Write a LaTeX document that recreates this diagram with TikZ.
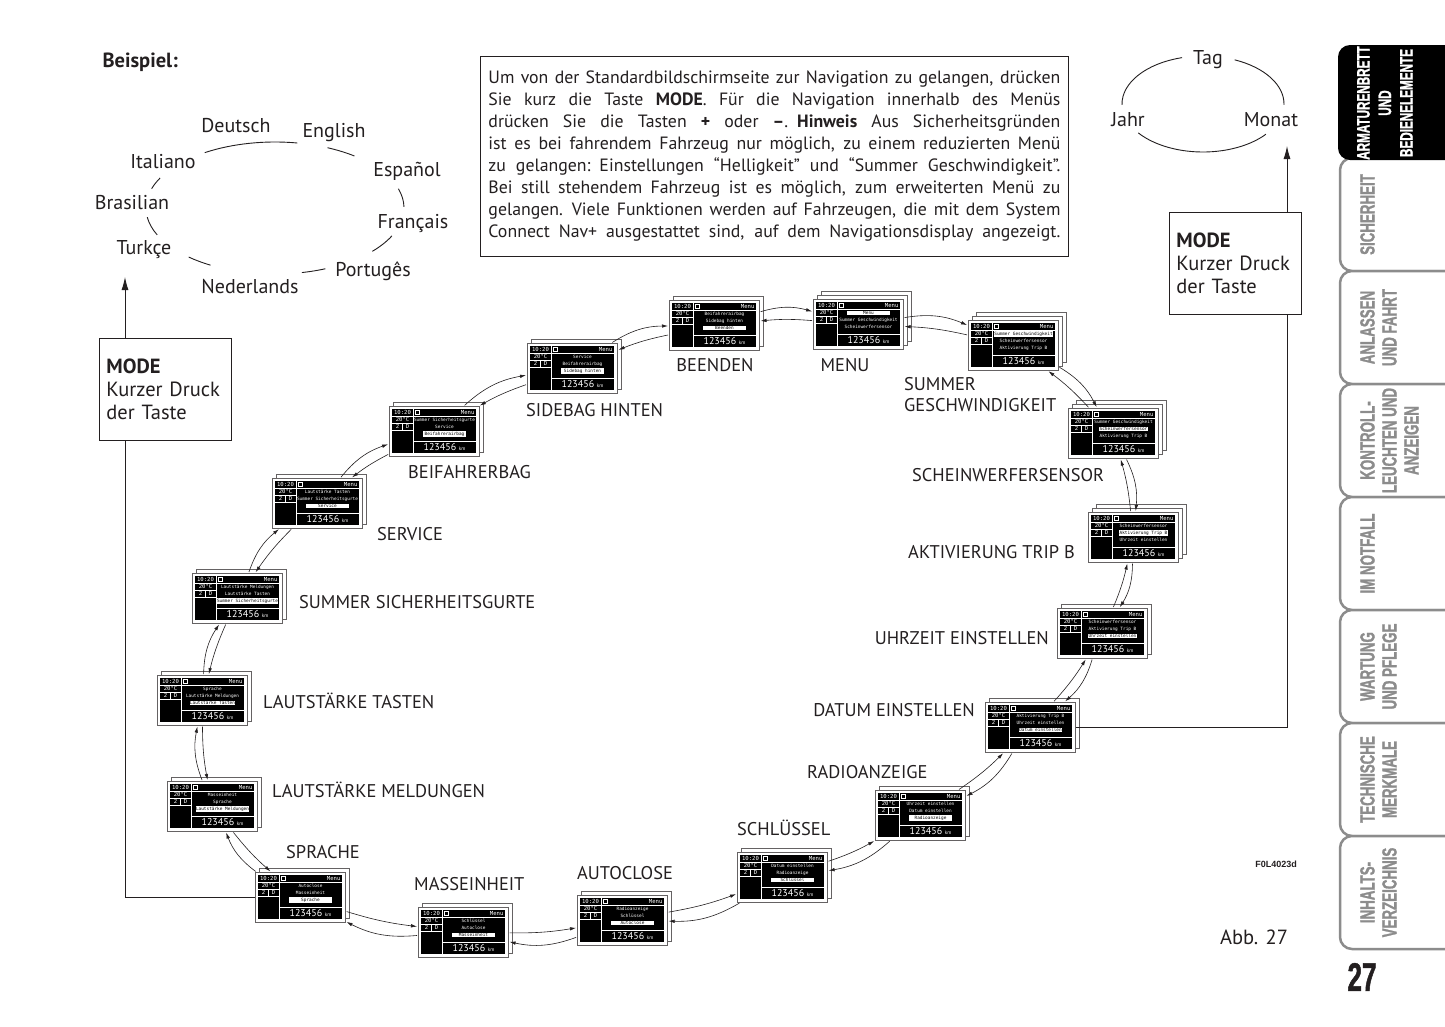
\documentclass[tikz,border=0pt]{standalone}
\usepackage{fontspec}
\setmainfont{PT Sans}
\newfontfamily\tabfont[FakeStretch=0.65,FakeBold=1.2]{Liberation Sans Bold}
\newfontfamily\lcdfont{DejaVu Sans Mono}
\newfontfamily\codefont{Liberation Sans}
\usetikzlibrary{arrows.meta,positioning,calc}
\definecolor{ink}{HTML}{231F20}
\definecolor{tabgray}{HTML}{8C8C8C}
\tikzset{
  lbl/.style={font=\fontsize{18.4}{21}\selectfont,text=ink,inner sep=1pt},
  lang/.style={font=\fontsize{20}{22}\selectfont,text=ink,inner sep=2pt},
  ring/.style={draw=ink,line width=0.9pt},
  modebox/.style={draw=ink,fill=white,line width=0.9pt,align=left,anchor=north west,text width=118pt,minimum height=102pt,inner sep=7pt,font=\fontsize{20.5}{23}\selectfont,text=ink},
  lcdframe/.style={draw=ink!70,fill=white,line width=0.6pt,minimum width=90pt,minimum height=50pt,inner sep=0pt,anchor=north west},
  lcdback/.style={draw=ink!70,fill=white,line width=0.6pt},
  lcdline/.style={draw=white,line width=0.5pt},
  lcdtxt/.style={text=white,font=\lcdfont\fontsize{4.4}{5}\selectfont,inner sep=0.4pt},
  lcdhead/.style={lcdtxt,font=\lcdfont\fontsize{5.6}{6}\selectfont},
  lcdsel/.style={lcdtxt,fill=white,text=black,minimum width=43pt},
  fwd/.style={-{Latex[length=6pt,width=3.5pt]},draw=ink,line width=0.6pt,shorten >=1pt,shorten <=1pt},
  bwd/.style={fwd},
  ar/.style={-{Latex[length=13pt,width=7pt]},draw=ink,line width=0.9pt},
  tabon/.style={fill=black,rounded corners=12pt},
  taboff/.style={draw=tabgray,line width=2.5pt,fill=white,rounded corners=12pt},
  tabtxt/.style={rotate=90,anchor=north,align=center,font=\tabfont\fontsize{20.5}{22}\selectfont,text=tabgray,inner sep=0pt},
}
% one justified line of the info box
\newcommand{\jline}[1]{\leavevmode\hbox to 572pt{\spaceskip=0.25em plus 1fil\relax#1}}
% display: name, top left, layers, line 1-3, selected line
\newcommand{\lcd}[7]{%
  \foreach \k in {#3,...,2}{\draw[lcdback,shift={({4*\k-4},{4-4*\k})}] #2 rectangle ++(90,50);}
  \node[lcdframe] (#1) at #2 {};
  \begin{scope}[shift={(#1.north west)}]
    \fill[black] (3,3) rectangle (87,47);
    \draw[lcdline] (3,10) -- (87,10) (24,3) -- (24,47) (3,17) -- (24,17) (3,24) -- (24,24)
      (13,17) -- (13,24) (24,35) -- (87,35) (26,4.5) rectangle (30,8.5);
    \node[lcdhead] at (13.5,6.5) {10:20};
    \node[lcdhead] at (13.5,13.5) {20°C};
    \node[lcdhead] at (8.5,20.5) {2};
    \node[lcdhead] at (18.5,20.5) {D};
    \node[lcdhead,anchor=east] at (86,6.5) {Menu};
    \ifnum#7=1 \node[lcdsel] at (55.5,14) {#4};\else\node[lcdtxt] at (55.5,14) {#4};\fi
    \ifnum#7=2 \node[lcdsel] at (55.5,21) {#5};\else\node[lcdtxt] at (55.5,21) {#5};\fi
    \ifnum#7=3 \node[lcdsel] at (55.5,28) {#6};\else\node[lcdtxt] at (55.5,28) {#6};\fi
    \node[text=white,inner sep=0pt,font=\fontsize{10}{11}\selectfont] at (55.5,41) {123456 {\fontsize{5}{5}\selectfont km}};
  \end{scope}}

\begin{document}
\begin{tikzpicture}[x=1pt,y=-1pt]
\useasboundingbox[fill=white] (0,0) rectangle (1445,1026);

% languages
\node[anchor=west,font=\bfseries\fontsize{20.5}{22}\selectfont,text=ink] (beispiel) at (99,62) {Beispiel:};
\node[lang] (deutsch) at (236,126) {Deutsch};
\node[lang] (english) at (334,133) {English};
\node[lang] (espanol) at (407,171) {Español};
\node[lang] (francais) at (413,223) {Français};
\node[lang] (portuges) at (373,271) {Portugês};
\node[lang] (nederlands) at (250,287) {Nederlands};
\node[lang] (turkce) at (144,250) {Turkçe};
\node[lang] (brasilian) at (132,203) {Brasilian};
\node[lang] (italiano) at (163,162) {Italiano};
\coordinate (langring) at (275,208);
\foreach \s/\e in {237/280,294/308,343/359,385/401,427/438,480/492,516/532,557/567}
  \draw[ring] (langring) ++(\s:129 and 66) arc[start angle=\s,end angle=\e,x radius=129,y radius=66];

% date
\node[lang] (tag) at (1208,60) {Tag};
\node[lang] (jahr) at (1128,120) {Jahr};
\node[lang] (monat) at (1271,120) {Monat};
\coordinate (datering) at (1203,104);
\foreach \s/\e in {179/255,293/361,39/143}
  \draw[ring] (datering) ++(\s:81 and 48) arc[start angle=\s,end angle=\e,x radius=81,y radius=48];

% info text
\node[draw=ink,line width=0.9pt,anchor=north west,inner xsep=8pt,inner ysep=0pt,minimum height=200pt,
  text width=572pt,align=left,text=ink,font=\fontsize{17.8}{22}\selectfont] (info) at (480,56) {%
\jline{Um von der Standardbildschirmseite zur Navigation zu gelangen, drücken}\\
\jline{Sie kurz die Taste \textbf{MODE}. Für die Navigation innerhalb des Menüs}\\
\jline{drücken Sie die Tasten \textbf{+} oder \textbf{–}. \textbf{Hinweis} Aus Sicherheitsgründen}\\
\jline{ist es bei fahrendem Fahrzeug nur möglich, zu einem reduzierten Menü}\\
\jline{zu gelangen: Einstellungen “Helligkeit” und “Summer Geschwindigkeit”.}\\
\jline{Bei still stehendem Fahrzeug ist es möglich, zum erweiterten Menü zu}\\
\jline{gelangen. Viele Funktionen werden auf Fahrzeugen, die mit dem System}\\
\jline{Connect Nav+ ausgestattet sind, auf dem Navigationsdisplay angezeigt.}};

% displays
\lcd{beenden}{(669,300)}{2}{Beifahrerairbag}{Sidebag hinten}{Beenden}{3}
\lcd{menu}{(813,299)}{3}{Menu}{Summer Geschwindigkeit}{Scheinwerfersensor}{1}
\lcd{sgeschw}{(968,320)}{3}{Summer Geschwindigkeit}{Scheinwerfersensor}{Aktivierung Trip B}{1}
\lcd{scheinw}{(1068,408)}{3}{Summer Geschwindigkeit}{Scheinwerfersensor}{Aktivierung Trip B}{2}
\lcd{tripb}{(1088,512)}{3}{Scheinwerfersensor}{Aktivierung Trip B}{Uhrzeit einstellen}{2}
\lcd{uhrzeit}{(1057,608)}{2}{Scheinwerfersensor}{Aktivierung Trip B}{Uhrzeit einstellen}{3}
\lcd{datum}{(985,702)}{2}{Aktivierung Trip B}{Uhrzeit einstellen}{Datum einstellen}{3}
\lcd{radio}{(875,790)}{2}{Uhrzeit einstellen}{Datum einstellen}{Radioanzeige}{3}
\lcd{schluessel}{(737,852)}{2}{Datum einstellen}{Radioanzeige}{Schlüssel}{3}
\lcd{autoclose}{(577,895)}{2}{Radioanzeige}{Schlüssel}{Autoclose}{3}
\lcd{masse}{(418,907)}{2}{Schlüssel}{Autoclose}{Masseinheit}{3}
\lcd{sprache}{(255,872)}{2}{Autoclose}{Masseinheit}{Sprache}{3}
\lcd{lmeld}{(167,781)}{2}{Masseinheit}{Sprache}{Lautstärke Meldungen}{3}
\lcd{ltast}{(157,675)}{2}{Sprache}{Lautstärke Meldungen}{Lautstärke Tasten}{3}
\lcd{sgurt}{(192,573)}{2}{Lautstärke Meldungen}{Lautstärke Tasten}{Summer Sicherheitsgurte}{3}
\lcd{service}{(272,478)}{2}{Lautstärke Tasten}{Summer Sicherheitsgurte}{Service}{3}
\lcd{airbag}{(389,406)}{2}{Summer Sicherheitsgurte}{Service}{Beifahrerairbag}{3}
\lcd{sidebag}{(527,343)}{2}{Service}{Beifahrerairbag}{Sidebag hinten}{3}

\foreach \a/\b in {beenden/menu,menu/sgeschw,sgeschw/scheinw,scheinw/tripb,tripb/uhrzeit,
  uhrzeit/datum,datum/radio,radio/schluessel,schluessel/autoclose,autoclose/masse,masse/sprache,
  sprache/lmeld,lmeld/ltast,ltast/sgurt,sgurt/service,service/airbag,airbag/sidebag,sidebag/beenden}
  {\draw[fwd] (\a) to[bend left=16] (\b); \draw[bwd] (\b) to[bend right=5] (\a);}

% labels
\node[lbl] (lbeenden) at (715,365) {BEENDEN};
\node[lbl] (lmenu) at (845,365) {MENU};
\node[lbl,anchor=west,align=left] (lsgeschw) at (903,395) {SUMMER\\GESCHWINDIGKEIT};
\node[lbl,anchor=west] (lscheinw) at (911,475) {SCHEINWERFERSENSOR};
\node[lbl,anchor=east] (ltripb) at (1076,552) {AKTIVIERUNG TRIP B};
\node[lbl,anchor=east] (luhrzeit) at (1050,638) {UHRZEIT EINSTELLEN};
\node[lbl,anchor=east] (ldatum) at (976,710) {DATUM EINSTELLEN};
\node[lbl,anchor=west] (lradio) at (806,772) {RADIOANZEIGE};
\node[lbl,anchor=west] (lschluessel) at (736,828) {SCHLÜSSEL};
\node[lbl,anchor=west] (lautoclose) at (576,873) {AUTOCLOSE};
\node[lbl,anchor=west] (lmasse) at (413,884) {MASSEINHEIT};
\node[lbl,anchor=west] (lsprache) at (285,852) {SPRACHE};
\node[lbl,anchor=west] (llmeld) at (271,790) {LAUTSTÄRKE MELDUNGEN};
\node[lbl,anchor=west] (lltast) at (262,701) {LAUTSTÄRKE TASTEN};
\node[lbl,anchor=west] (lsgurt) at (298,602) {SUMMER SICHERHEITSGURTE};
\node[lbl,anchor=west] (lservice) at (376,534) {SERVICE};
\node[lbl,anchor=west] (lairbag) at (407,472) {BEIFAHRERBAG};
\node[lbl,anchor=west] (lsidebag) at (525,410) {SIDEBAG HINTEN};

% MODE keys
\coordinate (langtip) at (125,277);
\coordinate (datetip) at (1287,146);
\draw[ar] (sprache.west) -| (langtip);
\draw[ar] (datum.east) -| (datetip);
\node[modebox] (modeL) at (99,338) {\textbf{MODE}\\Kurzer Druck\\der Taste};
\node[modebox] (modeR) at (1169,212) {\textbf{MODE}\\Kurzer Druck\\der Taste};

% tabs
\foreach \i/\txt in {2/{SICHERHEIT},3/{ANLASSEN\\UND FAHRT},4/{KONTROLL-\\LEUCHTEN UND\\ANZEIGEN},
  5/{IM NOTFALL},6/{WARTUNG\\UND PFLEGE},7/{TECHNISCHE\\MERKMALE},8/{INHALTS-\\VERZEICHNIS}}{
  \draw[taboff] (1460,{45+113*(\i-1)}) -- (1340,{45+113*(\i-1)}) -- (1340,{45+113*\i}) -- (1460,{45+113*\i});
  \node[tabtxt] (tab\i) at (1360,{45+113*(\i-0.5)}) {\txt};
}
\fill[tabon] (1460,45) -- (1338,45) -- (1338,160) -- (1460,160);
\node[tabtxt,text=white,font=\tabfont\fontsize{18}{21.5}\selectfont] (tab1) at (1357,103) {ARMATURENBRETT\\UND\\BEDIENELEMENTE};

\node[font=\tabfont\fontsize{40}{42}\selectfont,text=ink] (pagenum) at (1362,977) {27};
\node[font=\codefont\bfseries\fontsize{9}{10}\selectfont,text=ink] (figcode) at (1276,864) {F0L4023d};
\node[font=\fontsize{20.5}{22}\selectfont,text=ink] (figno) at (1254,937) {Abb. 27};
\end{tikzpicture}
\end{document}
